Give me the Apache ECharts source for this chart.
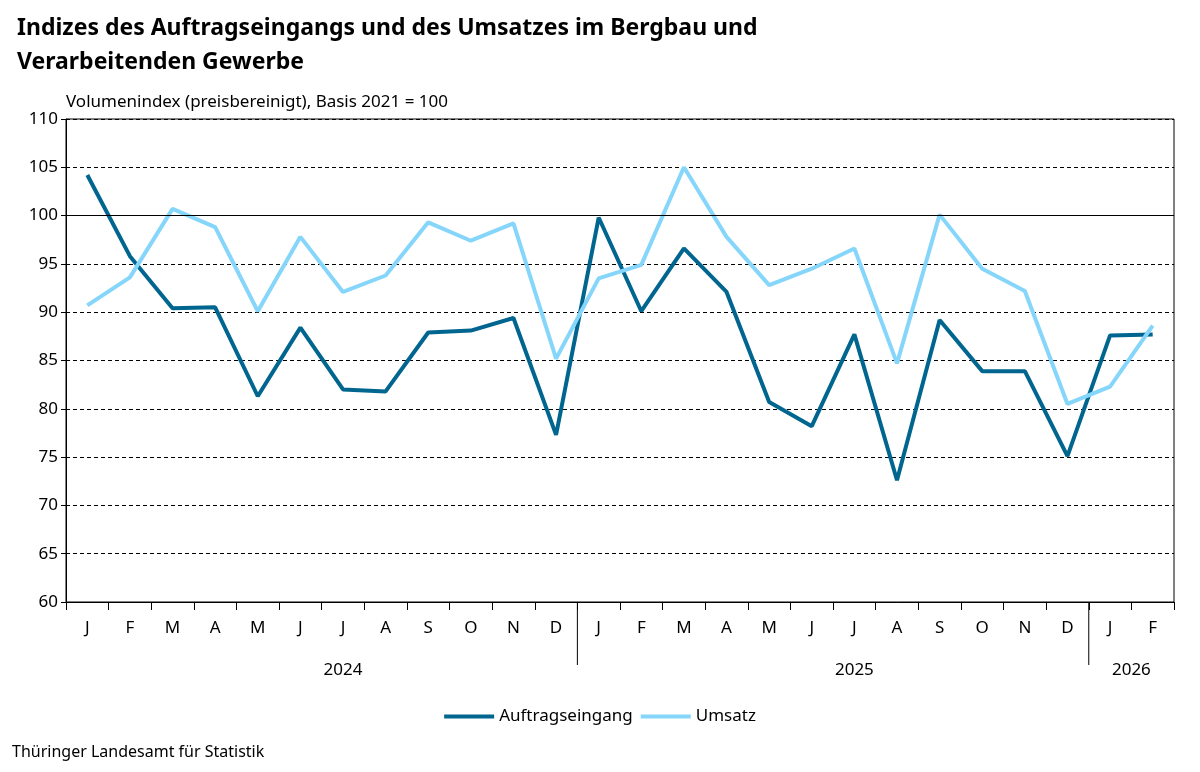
<!DOCTYPE html><html><head><meta charset="utf-8"><script src="https://cdn.jsdelivr.net/npm/echarts@6/dist/echarts.min.js"></script></head><body style="margin:0"><div id="c" style="width:1200px;height:772px"></div><script>
const months=['J','F','M','A','M','J','J','A','S','O','N','D','J','F','M','A','M','J','J','A','S','O','N','D','J','F'];
const years=[['2024',0,11,0.5],['2025',12,23,0.5],['2026',24,25,0]];
const auftrag=[104.2,95.8,90.4,90.5,81.3,88.4,82.0,81.8,87.9,88.1,89.4,77.3,99.8,90.1,96.6,92.1,80.7,78.2,87.7,72.6,89.2,83.9,83.9,75.1,87.6,87.7];
const umsatz=[90.7,93.6,100.7,98.8,90.1,97.8,92.1,93.8,99.3,97.4,99.2,85.2,93.5,94.9,105.0,97.8,92.8,94.5,96.6,84.7,100.1,94.5,92.2,80.5,82.3,88.6];
const F='"Source Sans Pro","Noto Sans",sans-serif';
const ch=echarts.init(document.getElementById('c'));
ch.setOption({animation:false,textStyle:{fontFamily:F},
title:{text:'Indizes des Auftragseingangs und des Umsatzes im Bergbau und\nVerarbeitenden Gewerbe',left:12,top:6,textStyle:{fontSize:23,fontWeight:'bold',color:'#000',lineHeight:34,fontFamily:F}},
grid:{left:66,right:26,top:119,bottom:170,show:true,borderColor:'#000',borderWidth:1},
legend:{bottom:42,left:'center',itemWidth:50,itemHeight:4,textStyle:{fontSize:17,color:'#000'},data:['Auftragseingang','Umsatz'],icon:'rect'},
xAxis:{type:'category',data:months,boundaryGap:true,axisLine:{lineStyle:{color:'#000'}},axisTick:{show:true,length:8,lineStyle:{color:'#000'}},axisLabel:{fontSize:17,color:'#000',margin:18}},
yAxis:{type:'value',min:60,max:110,interval:5,name:'Volumenindex (preisbereinigt), Basis 2021 = 100',nameLocation:'end',nameGap:8,nameTextStyle:{align:'left',fontSize:17,color:'#000'},axisLine:{show:true,lineStyle:{color:'#000'}},axisTick:{show:true,length:5,lineStyle:{color:'#000'}},axisLabel:{fontSize:17,color:'#000'},splitLine:{lineStyle:{type:[4,3],color:'#000'}}},
series:[{name:'Auftragseingang',type:'line',data:auftrag,symbol:'none',lineStyle:{width:4,color:'#00668f'},itemStyle:{color:'#00668f'},
markLine:{silent:true,symbol:'none',label:{show:false},lineStyle:{type:'solid',color:'#000',width:1},data:[{yAxis:100}]}},
{name:'Umsatz',type:'line',data:umsatz,symbol:'none',lineStyle:{width:4,color:'#85d6fa'},itemStyle:{color:'#85d6fa'}}]});
const g=[];const y0=ch.convertToPixel({yAxisIndex:0},60);
const step=ch.convertToPixel({xAxisIndex:0},1)-ch.convertToPixel({xAxisIndex:0},0);
years.forEach(([t,a,b,o],i)=>{const xa=ch.convertToPixel({xAxisIndex:0},a),xb=ch.convertToPixel({xAxisIndex:0},b);
g.push({type:'text',x:(xa+xb)/2+o*step,y:y0+60,style:{text:t,fontSize:17,fill:'#000',align:'center',fontFamily:F}});
if(i>0)g.push({type:'line',shape:{x1:xa-step/2,y1:y0,x2:xa-step/2,y2:y0+63},style:{stroke:'#000',lineWidth:1}});});
g.push({type:'text',left:12,bottom:12,style:{text:'Thüringer Landesamt für Statistik',fontSize:16,fill:'#000',fontFamily:F}});
ch.setOption({graphic:g});
</script></body></html>
